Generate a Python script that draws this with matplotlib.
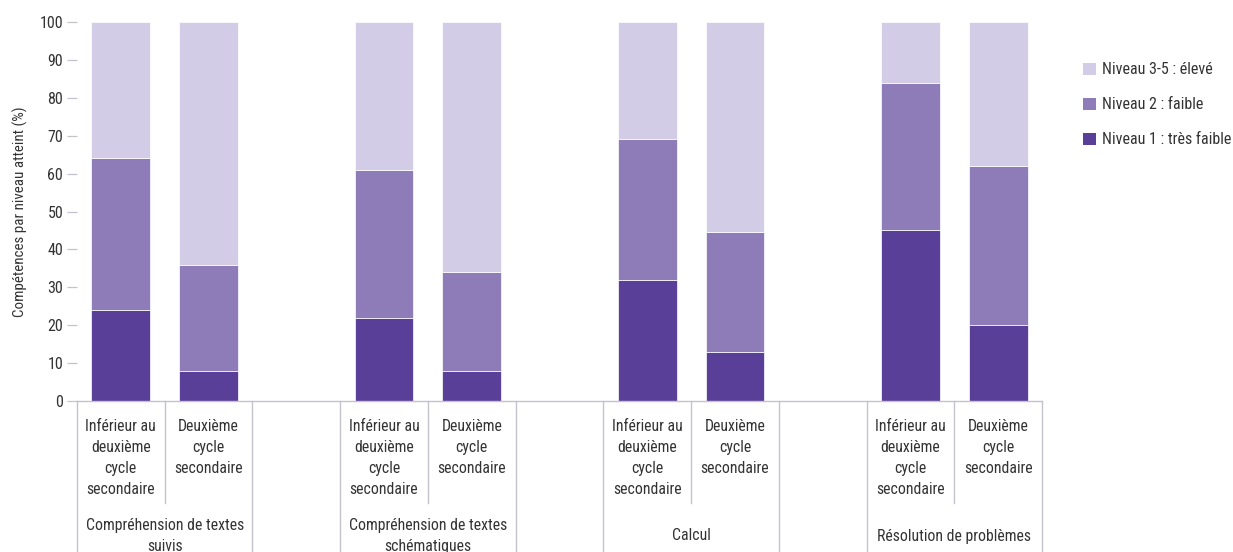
import matplotlib
matplotlib.use("Agg")
import matplotlib.pyplot as plt
from matplotlib.patches import Patch
from matplotlib import font_manager

# Data: share of adults at each proficiency level (%)
domains = ["Compréhension de textes\nsuivis",
           "Compréhension de textes\nschématiques",
           "Calcul",
           "Résolution de problèmes"]
education = ["Inférieur au\ndeuxième\ncycle\nsecondaire",
             "Deuxième\ncycle\nsecondaire"]
niveau1 = [24, 8, 22, 8, 32, 13, 45, 20]
niveau2 = [40, 28, 39, 26, 37, 31.5, 39, 42]
niveau3 = [36, 64, 39, 66, 31, 55.5, 16, 38]
series_labels = ["Niveau 1 : très faible", "Niveau 2 : faible", "Niveau 3-5 : élevé"]
yticks = list(range(0, 101, 10))
ylabel = "Compétences par niveau atteint (%)"

colors = ["#5a3f98", "#8e7cb9", "#d2cce6"]
text_color = "#333333"
line_color = "#c4c2cc"

# Prefer a narrow sans-serif face when one is installed
narrow_font = None
for fam in ["Liberation Sans Narrow", "Roboto Condensed", "Open Sans Condensed",
            "Noto Sans Condensed"]:
    if any(f.name == fam for f in font_manager.fontManager.ttflist):
        narrow_font = font_manager.FontProperties(family=fam)
        break
if narrow_font is None:
    cands = [f for f in font_manager.fontManager.ttflist
             if f.name in ("Roboto", "Open Sans", "Noto Sans", "DejaVu Sans", "Liberation Sans")
             and f.style == "normal" and f.weight in (400, "normal", "regular")
             and str(f.stretch) in ("condensed", "semi-condensed", "75", "87.5")]
    if cands:
        narrow_font = font_manager.FontProperties(fname=cands[0].fname)
    else:
        narrow_font = font_manager.FontProperties(family="Roboto")

def fp(size=10):
    p = narrow_font.copy()
    p.set_size(size)
    return p

fig = plt.figure(figsize=(12.33, 5.52), dpi=100)
W, H = 1233, 552
ax_left, ax_right, ax_bottom, ax_top = 77, 1042, 401, 22
ax = fig.add_axes([ax_left / W, 1 - ax_bottom / H,
                   (ax_right - ax_left) / W, (ax_bottom - ax_top) / H])
ax_h = ax_bottom - ax_top

# Slot positions: two bars per domain, an empty slot between domains
positions = []
for g in range(len(domains)):
    for b in range(len(education)):
        positions.append(3 * g + b + 0.5)

bottom = [0] * len(positions)
for vals, col, lab in zip([niveau1, niveau2, niveau3], colors, series_labels):
    ax.bar(positions, vals, width=0.67, bottom=bottom, color=col,
           edgecolor="#ffffff", linewidth=0.5, label=lab, zorder=2)
    bottom = [b + v for b, v in zip(bottom, vals)]

n_slots = 3 * len(domains) - 1
ax.set_xlim(0, n_slots)
ax.set_ylim(0, 100)
ax.set_yticks(yticks)
ax.set_yticklabels([str(t) for t in yticks], color=text_color, fontproperties=fp(11.5))
ax.tick_params(axis="y", length=7, width=0.9, color=line_color, pad=3)
ax.set_xticks([])
for s in ["top", "right", "left"]:
    ax.spines[s].set_visible(False)
ax.spines["bottom"].set_color(line_color)
ax.spines["bottom"].set_linewidth(1.0)
ax.set_ylabel(ylabel, color=text_color, fontproperties=fp(10.8), labelpad=8)

trans = ax.get_xaxis_transform()

def px(y_pix):
    return (ax_bottom - y_pix) / ax_h

# Hierarchical category axis
for g, dom in enumerate(domains):
    x0 = 3 * g
    x1 = 3 * g + 2
    for xb in (x0, x1):
        ax.plot([xb, xb], [0, px(560)], transform=trans, color=line_color,
                lw=1.0, clip_on=False)
    ax.plot([x0 + 1, x0 + 1], [0, px(503)], transform=trans, color=line_color,
            lw=1.0, clip_on=False)
    for b, lab in enumerate(education):
        ax.text(x0 + b + 0.5, px(419), lab, transform=trans, ha="center",
                va="top", color=text_color, fontproperties=fp(11.3), linespacing=1.5)
    ax.text(x0 + 1, px(536), dom, transform=trans, ha="center", va="center",
            color=text_color, fontproperties=fp(11.3), linespacing=1.5)

handles = [Patch(facecolor=c) for c in colors[::-1]]
fig.legend(handles, series_labels[::-1], loc="upper left",
           bbox_to_anchor=(1077 / W, 1 - 56 / H), frameon=False,
           handlelength=0.8, handleheight=0.8, handletextpad=0.35,
           labelspacing=1.25, prop=fp(11.5), labelcolor=text_color,
           borderaxespad=0)

fig.savefig("out.png", dpi=100)
